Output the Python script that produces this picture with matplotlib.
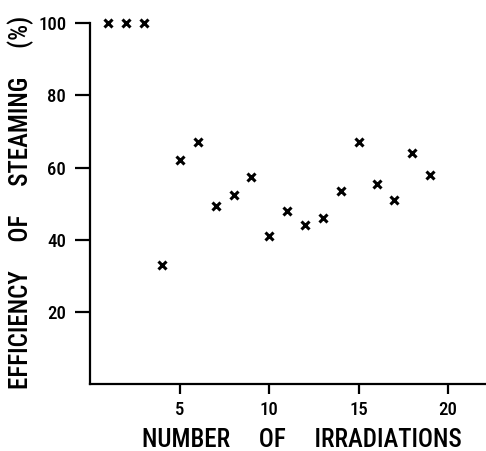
import matplotlib
matplotlib.use("Agg")
import matplotlib.pyplot as plt
from matplotlib import font_manager

# Data
irradiations = [1, 2, 3, 4, 5, 6, 7, 8, 9, 10, 11, 12, 13, 14, 15, 16, 17, 18, 19]
efficiency = [100, 100, 100, 33, 62, 67, 49.5, 52.5, 57.5, 41, 48, 44, 46, 53.5, 67, 55.5, 51, 64, 58]
x_ticks = [5, 10, 15, 20]
y_ticks = [20, 40, 60, 80, 100]

available = {f.name for f in font_manager.fontManager.ttflist}
family = "DejaVu Sans"
for cand in ["Liberation Sans Narrow", "DejaVu Sans Condensed", "Roboto Condensed", "Open Sans Condensed"]:
    if cand in available:
        family = cand
        break
plt.rcParams['font.family'] = [family, "DejaVu Sans"]
WEIGHT = 'medium'

fig = plt.figure(figsize=(4.86, 4.51), dpi=100)
ax = fig.add_axes([0.1862, 0.1475, 0.8138, 0.8015])

ax.plot(irradiations, efficiency, linestyle='none', marker='x', color='black',
        markersize=6, markeredgewidth=2.2, clip_on=False)

ax.set_xlim(0, 22.12)
ax.set_ylim(0, 100)
ax.set_xticks(x_ticks)
ax.set_yticks(y_ticks)
ax.spines['top'].set_visible(False)
ax.spines['right'].set_visible(False)
for s in ['left', 'bottom']:
    ax.spines[s].set_linewidth(1.6)
ax.tick_params(axis='y', direction='out', length=10.5, width=1.6, pad=7, labelsize=13.5)
ax.tick_params(axis='x', direction='out', length=7, width=1.6, pad=5, labelsize=13.5)
for lbl in ax.get_xticklabels() + ax.get_yticklabels():
    lbl.set_fontweight(WEIGHT)

ax.set_xlabel("NUMBER     OF     IRRADIATIONS", fontsize=18, fontweight=WEIGHT, va='center', ha='center')
ax.xaxis.set_label_coords(0.535, -0.1535)
ax.set_ylabel("EFFICIENCY     OF     STEAMING     (%)", fontsize=18, fontweight=WEIGHT, va='center', ha='center')
ax.yaxis.set_label_coords(-0.177, 0.505)

fig.savefig("out.png", dpi=100)
